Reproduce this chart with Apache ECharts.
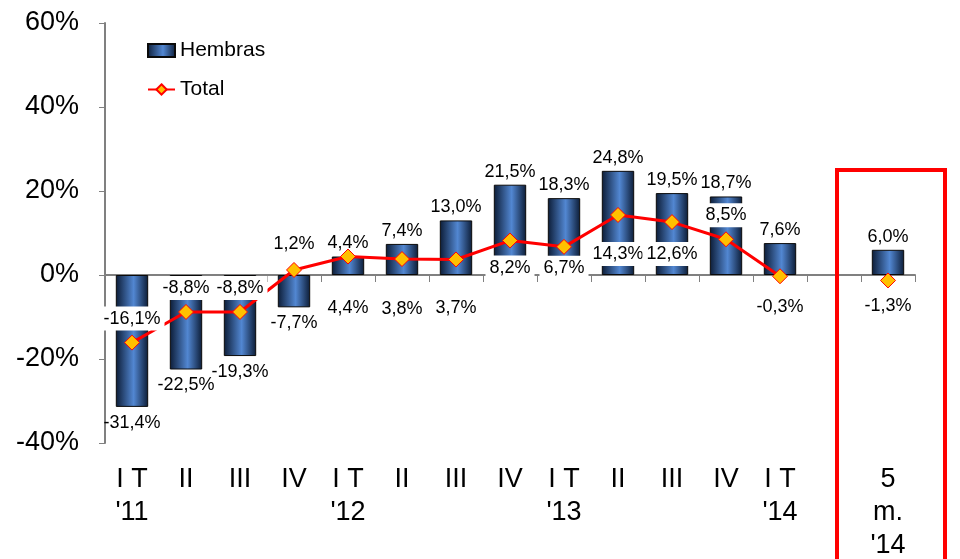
<!DOCTYPE html>
<html>
<head>
<meta charset="utf-8">
<script src="https://cdn.jsdelivr.net/npm/echarts@6/dist/echarts.min.js"></script>
<style>
  html, body { margin: 0; padding: 0; background: #fff; }
  #main { width: 960px; height: 559px; }
</style>
</head>
<body>
<div id="main"></div>
<script>
// categorías (trimestres) — la 14ª queda vacía como separador
const categories = ["I T\n'11", 'II', 'III', 'IV', "I T\n'12", 'II', 'III', 'IV', "I T\n'13", 'II', 'III', 'IV', "I T\n'14", '', "5\nm.\n'14"];
const hembras = [-31.4, -22.5, -19.3, -7.7, 4.4, 7.4, 13.0, 21.5, 18.3, 24.8, 19.5, 18.7, 7.6, null, 6.0];
const total = [-16.1, -8.8, -8.8, 1.2, 4.4, 3.8, 3.7, 8.2, 6.7, 14.3, 12.6, 8.5, -0.3, null, -1.3];
const yTicks = [-40, -20, 0, 20, 40, 60];

// colocación de las etiquetas de Total (no son datos)
const totalLabelPos = ['top', 'top', 'top', 'top', 'bottom', 'bottom', 'bottom', 'bottom', 'bottom', 'bottom', 'bottom', 'top', 'bottom', 'bottom', 'bottom'];
const totalLabelDist = [4, 4, 4, 6, 32, 30, 29, 7, 1, 19, 12, 4, 11, 11, 6];

const FONT = '"Liberation Sans", Arial, sans-serif';
const fmt = (v) => v.toFixed(1).replace('.', ',') + '%';

const chart = echarts.init(document.getElementById('main'));

const barColor = new echarts.graphic.LinearGradient(0, 0, 1, 0, [
  {offset: 0, color: '#0c1c36'},
  {offset: 0.55, color: '#5287d2'},
  {offset: 1, color: '#0c1c36'}
]);

const option = {
  animation: false,
  textStyle: {fontFamily: FONT},
  legend: {
    orient: 'vertical',
    left: 142,
    top: 35,
    itemGap: 18,
    itemWidth: 27,
    itemHeight: 13,
    textStyle: {fontSize: 21, color: '#000', fontFamily: FONT},
    data: [
      {name: 'Hembras', icon: 'rect'},
      {name: 'Total'}
    ]
  },
  grid: {left: 105, right: 45, top: 23, bottom: 116, outerBoundsMode: 'none', containLabel: false},
  xAxis: [
    {
      type: 'category',
      data: categories,
      position: 'bottom',
      axisLine: {onZero: true, lineStyle: {color: '#808080', width: 2}},
      axisTick: {show: true, length: 7, lineStyle: {color: '#808080'}},
      axisLabel: {show: false}
    },
    {
      type: 'category',
      data: categories,
      position: 'bottom',
      axisLine: {show: false, onZero: false},
      axisTick: {show: false},
      axisLabel: {
        interval: 0,
        margin: 20,
        fontSize: 27,
        lineHeight: 33,
        color: '#000',
        verticalAlign: 'top',
        fontFamily: FONT
      }
    }
  ],
  yAxis: {
    type: 'value',
    min: yTicks[0],
    max: yTicks[yTicks.length - 1],
    interval: 20,
    splitLine: {show: false},
    axisLine: {show: true, lineStyle: {color: '#808080', width: 2}},
    axisTick: {show: true, length: 6, lineStyle: {color: '#808080'}},
    axisLabel: {
      formatter: '{value}%',
      fontSize: 27,
      margin: 26,
      color: '#000',
      fontFamily: FONT
    }
  },
  series: [
    {
      name: 'Hembras',
      type: 'bar',
      xAxisIndex: 0,
      barWidth: '60%',
      z: 2,
      itemStyle: {color: barColor, borderColor: '#0a0a0a', borderWidth: 1},
      label: {
        show: true,
        fontSize: 18,
        color: '#000',
        fontFamily: FONT,
        formatter: (p) => fmt(p.value)
      },
      data: hembras.map((v) => v === null ? '-' : {
        value: v,
        label: {position: v >= 0 ? 'top' : 'bottom', distance: v >= 0 ? 4 : 7}
      })
    },
    {
      name: 'Total',
      type: 'line',
      xAxisIndex: 0,
      z: 4,
      symbol: 'diamond',
      symbolSize: 15,
      lineStyle: {color: '#ff0000', width: 3},
      itemStyle: {color: '#ffc000', borderColor: '#ff0000', borderWidth: 1},
      label: {
        show: true,
        fontSize: 18,
        color: '#000',
        fontFamily: FONT,
        backgroundColor: '#fff',
        padding: [3, 4],
        formatter: (p) => fmt(p.value)
      },
      data: total.map((v, i) => v === null ? '-' : {
        value: v,
        label: {position: totalLabelPos[i], distance: totalLabelDist[i]}
      })
    }
  ]
};

chart.setOption(option);

// recuadro rojo alrededor del último periodo
const cx = chart.convertToPixel({xAxisIndex: 0}, 14);
const band = cx - chart.convertToPixel({xAxisIndex: 0}, 13);
const topY = chart.convertToPixel({yAxisIndex: 0}, 25);
chart.setOption({
  graphic: [{
    type: 'rect',
    z: 10,
    shape: {x: cx - band + 3, y: topY, width: band * 2, height: 600},
    style: {fill: 'none', stroke: '#ff0000', lineWidth: 4}
  }]
});
</script>
</body>
</html>
